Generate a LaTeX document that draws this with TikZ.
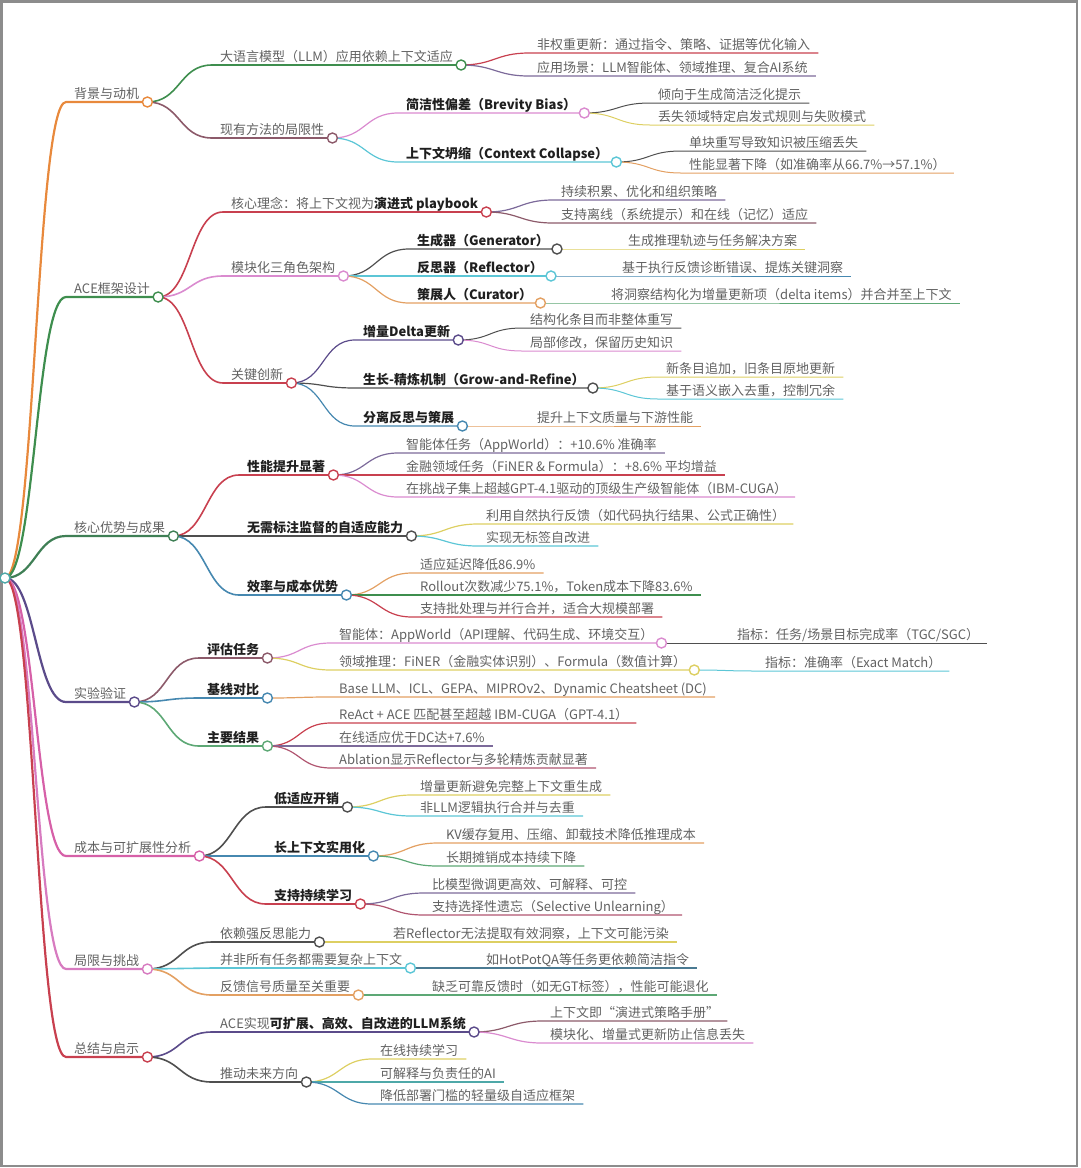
\documentclass[tikz,border=0pt]{standalone}
\usepackage{fontspec}
\setmainfont{Noto Sans CJK SC}
\usepackage{tikz}

\definecolor{cOrg}{HTML}{E8893C}
\definecolor{cGrn}{HTML}{3E8E4E}
\definecolor{cDgn}{HTML}{3F7F55}
\definecolor{cRed}{HTML}{C8404F}
\definecolor{cPnk}{HTML}{DA8BCF}
\definecolor{cCyn}{HTML}{5CC6D6}
\definecolor{cYel}{HTML}{DDCF62}
\definecolor{cGry}{HTML}{4F4F4F}
\definecolor{cTan}{HTML}{E3A062}
\definecolor{cMau}{HTML}{8C5A6A}
\definecolor{cPur}{HTML}{7C6A9A}
\definecolor{cBlu}{HTML}{4688B0}
\definecolor{cInd}{HTML}{5B4B8A}
\definecolor{cMag}{HTML}{D660A8}
\definecolor{cMgl}{HTML}{D77BC0}
\definecolor{cLgn}{HTML}{5DA875}
\definecolor{cTea}{HTML}{4EA8A8}
\definecolor{cSla}{HTML}{4A7A92}
\definecolor{cRos}{HTML}{B05570}

\begin{document}
\begin{tikzpicture}[x=1pt, y=-1pt,
  txt/.style   = {anchor=south west, font=\fontsize{13}{15}\selectfont, text=black!62,
                  inner xsep=8pt, inner ysep=3.5pt, text height=10pt, text depth=0pt},
  key/.style   = {txt, font=\fontsize{13}{15}\selectfont\bfseries, text=black!88},
  knob/.style  = {circle, draw=#1, fill=white, line width=1.4pt,
                  minimum size=10pt, inner sep=0pt},
  kid/.style   = {to path={.. controls +(#1,0) and +(-#1,0) ..
                  (\tikztotarget.south west) -- (\tikztotarget.south east)}},
  kid/.default = 33,
  l1/.style    = {line width=2.2pt},
  l2/.style    = {line width=1.6pt},
  l3/.style    = {line width=1.2pt},
  l4/.style    = {line width=1pt},
]
\useasboundingbox (0,0) rectangle (1080,1168);
\draw[black!45, line width=2.5pt] (1.5,1.5) rectangle (1077,1166);

% --- root ----------------------------------------------------------------
\coordinate (root) at (5,578);

% --- 背景与动机 -----------------------------------------------------------
\node[txt] (bg)     at (66,102)  {背景与动机};
\node[txt] (bgLlm)  at (212,65)  {大语言模型（LLM）应用依赖上下文适应};
\node[txt] (bgLim)  at (212,138) {现有方法的局限性};
\node[txt] (bgW)    at (529,53)  {非权重更新：通过指令、策略、证据等优化输入};
\node[txt] (bgUse)  at (529,76)  {应用场景：LLM智能体、领域推理、复合AI系统};
\node[key] (bgBrev) at (398,113) {简洁性偏差（Brevity Bias）};
\node[key] (bgColl) at (398,162) {上下文坍缩（Context Collapse）};
\node[txt] (bgB1)   at (650,103) {倾向于生成简洁泛化提示};
\node[txt] (bgB2)   at (650,125) {丢失领域特定启发式规则与失败模式};
\node[txt] (bgC1)   at (681,151) {单块重写导致知识被压缩丢失};
\node[txt] (bgC2)   at (681,173) {性能显著下降（如准确率从66.7\%→57.1\%）};

\draw[l1, cOrg] (root) to[kid=30] (bg);
\draw[l2, cGrn] (bg.south east) to[kid] (bgLlm);
\draw[l2, cMau] (bg.south east) to[kid] (bgLim);
\draw[l3, cRed] (bgLlm.south east) to[kid] (bgW);
\draw[l3, cPur] (bgLlm.south east) to[kid] (bgUse);
\draw[l3, cPnk] (bgLim.south east) to[kid] (bgBrev);
\draw[l3, cCyn] (bgLim.south east) to[kid] (bgColl);
\draw[l4, cGry] (bgBrev.south east) to[kid] (bgB1);
\draw[l4, cYel] (bgBrev.south east) to[kid] (bgB2);
\draw[l4, cGry] (bgColl.south east) to[kid] (bgC1);
\draw[l4, cTan] (bgColl.south east) to[kid] (bgC2);

% --- ACE框架设计 ----------------------------------------------------------
\node[txt] (ace)     at (66,297)  {ACE框架设计};
\node[txt] (aceCore) at (223,212) {核心理念：将上下文视为{\bfseries\color{black!88}演进式 playbook}};
\node[txt] (aceMod)  at (223,276) {模块化三角色架构};
\node[txt] (aceKey)  at (223,383) {关键创新};
\node[txt] (aceC1)   at (553,200) {持续积累、优化和组织策略};
\node[txt] (aceC2)   at (553,223) {支持离线（系统提示）和在线（记忆）适应};
\node[key] (aceGen)  at (409,249) {生成器（Generator）};
\node[key] (aceRef)  at (409,276) {反思器（Reflector）};
\node[key] (aceCur)  at (409,303) {策展人（Curator）};
\node[txt] (aceGen1) at (620,249) {生成推理轨迹与任务解决方案};
\node[txt] (aceRef1) at (614,276) {基于执行反馈诊断错误、提炼关键洞察};
\node[txt] (aceCur1) at (603,303) {将洞察结构化为增量更新项（delta items）并合并至上下文};
\node[key] (aceDel)  at (355,340) {增量Delta更新};
\node[key] (aceGrow) at (355,388) {生长-精炼机制（Grow-and-Refine）};
\node[key] (aceSep)  at (355,426) {分离反思与策展};
\node[txt] (aceD1)   at (522,328) {结构化条目而非整体重写};
\node[txt] (aceD2)   at (522,351) {局部修改，保留历史知识};
\node[txt] (aceG1)   at (658,377) {新条目追加，旧条目原地更新};
\node[txt] (aceG2)   at (658,399) {基于语义嵌入去重，控制冗余};
\node[txt] (aceS1)   at (529,426) {提升上下文质量与下游性能};

\draw[l1, cGrn] (root) to[kid=30] (ace);
\draw[l2, cRed] (ace.south east) to[kid] (aceCore);
\draw[l2, cPnk] (ace.south east) to[kid] (aceMod);
\draw[l2, cRed] (ace.south east) to[kid] (aceKey);
\draw[l3, cPur] (aceCore.south east) to[kid] (aceC1);
\draw[l3, cMau] (aceCore.south east) to[kid] (aceC2);
\draw[l3, cGry] (aceMod.south east) to[kid] (aceGen);
\draw[l3, cCyn] (aceMod.south east) to[kid] (aceRef);
\draw[l3, cTan] (aceMod.south east) to[kid] (aceCur);
\draw[l4, cYel] (aceGen.south east) to[kid] (aceGen1);
\draw[l4, cBlu] (aceRef.south east) to[kid] (aceRef1);
\draw[l4, cLgn] (aceCur.south east) to[kid] (aceCur1);
\draw[l3, cInd] (aceKey.south east) to[kid] (aceDel);
\draw[l3, cGry] (aceKey.south east) to[kid] (aceGrow);
\draw[l3, cBlu] (aceKey.south east) to[kid] (aceSep);
\draw[l4, cGry] (aceDel.south east) to[kid] (aceD1);
\draw[l4, cPnk] (aceDel.south east) to[kid] (aceD2);
\draw[l4, cYel] (aceGrow.south east) to[kid] (aceG1);
\draw[l4, cCyn] (aceGrow.south east) to[kid] (aceG2);
\draw[l4, cTan] (aceSep.south east) to[kid] (aceS1);

% --- 核心优势与成果 -------------------------------------------------------
\node[txt] (adv)     at (66,536)  {核心优势与成果};
\node[key] (advPerf) at (239,475) {性能提升显著};
\node[key] (advSelf) at (239,536) {无需标注监督的自适应能力};
\node[key] (advEff)  at (239,595) {效率与成本优势};
\node[txt] (advP1)   at (398,453) {智能体任务（AppWorld）：+10.6\% 准确率};
\node[txt] (advP2)   at (398,475) {金融领域任务（FiNER \& Formula）：+8.6\% 平均增益};
\node[txt] (advP3)   at (398,497) {在挑战子集上超越GPT-4.1驱动的顶级生产级智能体（IBM-CUGA）};
\node[txt] (advS1)   at (478,524) {利用自然执行反馈（如代码执行结果、公式正确性）};
\node[txt] (advS2)   at (478,546) {实现无标签自改进};
\node[txt] (advE1)   at (412,573) {适应延迟降低86.9\%};
\node[txt] (advE2)   at (412,595) {Rollout次数减少75.1\%，Token成本下降83.6\%};
\node[txt] (advE3)   at (412,617) {支持批处理与并行合并，适合大规模部署};

\draw[l1, cDgn] (root) to[kid=30] (adv);
\draw[l2, cRed] (adv.south east) to[kid] (advPerf);
\draw[l2, cGry] (adv.south east) to[kid] (advSelf);
\draw[l2, cBlu] (adv.south east) to[kid] (advEff);
\draw[l3, cPur] (advPerf.south east) to[kid] (advP1);
\draw[l3, cRed] (advPerf.south east) to[kid] (advP2);
\draw[l3, cPnk] (advPerf.south east) to[kid] (advP3);
\draw[l3, cYel] (advSelf.south east) to[kid] (advS1);
\draw[l3, cCyn] (advSelf.south east) to[kid] (advS2);
\draw[l3, cTan] (advEff.south east) to[kid] (advE1);
\draw[l3, cGrn] (advEff.south east) to[kid] (advE2);
\draw[l3, cRed] (advEff.south east) to[kid] (advE3);

% --- 实验验证 -------------------------------------------------------------
\node[txt] (exp)     at (66,702)  {实验验证};
\node[key] (expTask) at (199,658) {评估任务};
\node[key] (expBase) at (199,698) {基线对比};
\node[key] (expRes)  at (199,746) {主要结果};
\node[txt] (expT1)   at (331,643) {智能体：AppWorld（API理解、代码生成、环境交互）};
\node[txt] (expT2)   at (331,670) {领域推理：FiNER（金融实体识别）、Formula（数值计算）};
\node[txt] (expT1m)  at (729,643) {指标：任务/场景目标完成率（TGC/SGC）};
\node[txt] (expT2m)  at (757,671) {指标：准确率（Exact Match）};
\node[txt] (expB1)   at (331,697) {Base LLM、ICL、GEPA、MIPROv2、Dynamic Cheatsheet (DC)};
\node[txt] (expR1)   at (331,723) {ReAct + ACE 匹配甚至超越 IBM-CUGA（GPT-4.1）};
\node[txt] (expR2)   at (331,746) {在线适应优于DC达+7.6\%};
\node[txt] (expR3)   at (331,768) {Ablation显示Reflector与多轮精炼贡献显著};

\draw[l1, cInd] (root) to[kid=30] (exp);
\draw[l2, cMau] (exp.south east) to[kid] (expTask);
\draw[l2, cBlu] (exp.south east) to[kid] (expBase);
\draw[l2, cLgn] (exp.south east) to[kid] (expRes);
\draw[l3, cPnk] (expTask.south east) to[kid] (expT1);
\draw[l3, cYel] (expTask.south east) to[kid] (expT2);
\draw[l4, cGry] (expT1.south east) to[kid] (expT1m);
\draw[l4, cCyn] (expT2.south east) to[kid] (expT2m);
\draw[l3, cTan] (expBase.south east) to[kid] (expB1);
\draw[l3, cRed] (expRes.south east) to[kid] (expR1);
\draw[l3, cPur] (expRes.south east) to[kid] (expR2);
\draw[l3, cRos] (expRes.south east) to[kid] (expR3);

% --- 成本与可扩展性分析 ---------------------------------------------------
\node[txt] (cost)     at (66,856)  {成本与可扩展性分析};
\node[key] (costLow)  at (266,807) {低适应开销};
\node[key] (costLong) at (266,856) {长上下文实用化};
\node[key] (costCont) at (266,904) {支持持续学习};
\node[txt] (costL1)   at (412,795) {增量更新避免完整上下文重生成};
\node[txt] (costL2)   at (412,816) {非LLM逻辑执行合并与去重};
\node[txt] (costG1)   at (438,843) {KV缓存复用、压缩、卸载技术降低推理成本};
\node[txt] (costG2)   at (438,866) {长期摊销成本持续下降};
\node[txt] (costC1)   at (424,893) {比模型微调更高效、可解释、可控};
\node[txt] (costC2)   at (424,915) {支持选择性遗忘（Selective Unlearning）};

\draw[l1, cMag] (root) to[kid=30] (cost);
\draw[l2, cGry] (cost.south east) to[kid] (costLow);
\draw[l2, cBlu] (cost.south east) to[kid] (costLong);
\draw[l2, cRed] (cost.south east) to[kid] (costCont);
\draw[l3, cYel] (costLow.south east) to[kid] (costL1);
\draw[l3, cCyn] (costLow.south east) to[kid] (costL2);
\draw[l3, cTan] (costLong.south east) to[kid] (costG1);
\draw[l3, cLgn] (costLong.south east) to[kid] (costG2);
\draw[l3, cPur] (costCont.south east) to[kid] (costC1);
\draw[l3, cRos] (costCont.south east) to[kid] (costC2);

% --- 局限与挑战 -----------------------------------------------------------
\node[txt] (lim)    at (66,969)  {局限与挑战};
\node[txt] (limRef) at (212,942) {依赖强反思能力};
\node[txt] (limCtx) at (212,968) {并非所有任务都需要复杂上下文};
\node[txt] (limFb)  at (212,995) {反馈信号质量至关重要};
\node[txt] (limR1)  at (385,942) {若Reflector无法提取有效洞察，上下文可能污染};
\node[txt] (limC1)  at (478,968) {如HotPotQA等任务更依赖简洁指令};
\node[txt] (limF1)  at (424,995) {缺乏可靠反馈时（如无GT标签），性能可能退化};

\draw[l1, cMgl] (root) to[kid=30] (lim);
\draw[l2, cGry] (lim.south east) to[kid] (limRef);
\draw[l2, cCyn] (lim.south east) to[kid] (limCtx);
\draw[l2, cTan] (lim.south east) to[kid] (limFb);
\draw[l3, cYel] (limRef.south east) to[kid] (limR1);
\draw[l3, cSla] (limCtx.south east) to[kid] (limC1);
\draw[l3, cLgn] (limFb.south east) to[kid] (limF1);

% --- 总结与启示 -----------------------------------------------------------
\node[txt] (sum)    at (66,1057)  {总结与启示};
\node[txt] (sumAce) at (212,1032) {ACE实现{\bfseries\color{black!88}可扩展、高效、自改进的LLM系统}};
\node[txt] (sumFut) at (212,1082) {推动未来方向};
\node[txt] (sumA1)  at (542,1021) {上下文即“演进式策略手册”};
\node[txt] (sumA2)  at (542,1043) {模块化、增量式更新防止信息丢失};
\node[txt] (sumF1)  at (372,1059) {在线持续学习};
\node[txt] (sumF2)  at (372,1082) {可解释与负责任的AI};
\node[txt] (sumF3)  at (372,1104) {降低部署门槛的轻量级自适应框架};

\draw[l1, cRed] (root) to[kid=30] (sum);
\draw[l2, cInd] (sum.south east) to[kid] (sumAce);
\draw[l2, cGry] (sum.south east) to[kid] (sumFut);
\draw[l3, cMau] (sumAce.south east) to[kid] (sumA1);
\draw[l3, cPnk] (sumAce.south east) to[kid] (sumA2);
\draw[l3, cYel] (sumFut.south east) to[kid] (sumF1);
\draw[l3, cTea] (sumFut.south east) to[kid] (sumF2);
\draw[l3, cBlu] (sumFut.south east) to[kid] (sumF3);

% --- knobs ---------------------------------------------------------------
\node[knob=cTea] at (root) {};
\node[knob=cOrg] at (bg.south east) {};
\node[knob=cGrn] at (bgLlm.south east) {};
\node[knob=cMau] at (bgLim.south east) {};
\node[knob=cPnk] at (bgBrev.south east) {};
\node[knob=cCyn] at (bgColl.south east) {};
\node[knob=cGrn] at (ace.south east) {};
\node[knob=cRed] at (aceCore.south east) {};
\node[knob=cPnk] at (aceMod.south east) {};
\node[knob=cRed] at (aceKey.south east) {};
\node[knob=cGry] at (aceGen.south east) {};
\node[knob=cCyn] at (aceRef.south east) {};
\node[knob=cTan] at (aceCur.south east) {};
\node[knob=cInd] at (aceDel.south east) {};
\node[knob=cGry] at (aceGrow.south east) {};
\node[knob=cBlu] at (aceSep.south east) {};
\node[knob=cDgn] at (adv.south east) {};
\node[knob=cRed] at (advPerf.south east) {};
\node[knob=cGry] at (advSelf.south east) {};
\node[knob=cBlu] at (advEff.south east) {};
\node[knob=cInd] at (exp.south east) {};
\node[knob=cMau] at (expTask.south east) {};
\node[knob=cBlu] at (expBase.south east) {};
\node[knob=cLgn] at (expRes.south east) {};
\node[knob=cPnk] at (expT1.south east) {};
\node[knob=cYel] at (expT2.south east) {};
\node[knob=cMag] at (cost.south east) {};
\node[knob=cGry] at (costLow.south east) {};
\node[knob=cBlu] at (costLong.south east) {};
\node[knob=cRed] at (costCont.south east) {};
\node[knob=cMgl] at (lim.south east) {};
\node[knob=cGry] at (limRef.south east) {};
\node[knob=cCyn] at (limCtx.south east) {};
\node[knob=cTan] at (limFb.south east) {};
\node[knob=cRed] at (sum.south east) {};
\node[knob=cInd] at (sumAce.south east) {};
\node[knob=cGry] at (sumFut.south east) {};

\end{tikzpicture}
\end{document}
